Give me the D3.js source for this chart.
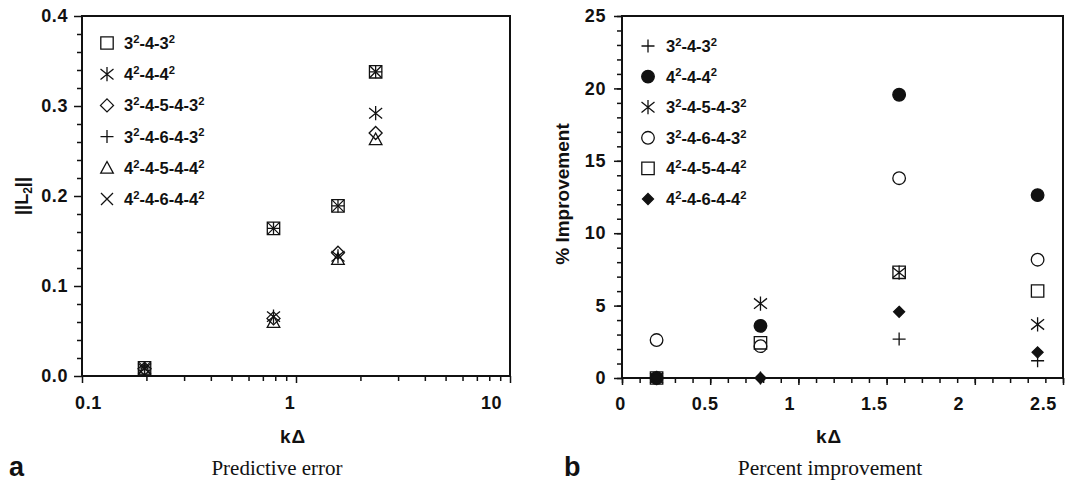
<!DOCTYPE html>
<html>
<head>
<meta charset="utf-8">
<script src="https://cdn.jsdelivr.net/npm/d3@7"></script>
<style>
  body { margin: 0; background: #fff; }
  text { fill: #111; }
  .bold { font-family: "Liberation Sans", Arial, sans-serif; font-weight: bold; }
  .tick-label { letter-spacing: 0.6px; }
  .serif { font-family: "Liberation Serif", "Times New Roman", serif; }
</style>
</head>
<body>
<svg id="chart" width="1083" height="486"></svg>
<script>
// Dimensionless grid spacing k*Delta for the four resolutions
const kDelta = [0.196, 0.785, 1.571, 2.356];

// Panel a: predictive error ||L2|| per stencil
const errorNames   = ["3²-4-3²", "4²-4-4²", "3²-4-5-4-3²", "3²-4-6-4-3²", "4²-4-5-4-4²", "4²-4-6-4-4²"];
const errorMarkers = ["square", "asterisk", "diamond", "plus", "triangle", "cross"];
const err_3_4_3       = [0.009, 0.164, 0.189, 0.338];
const err_4_4_4       = [0.008, 0.066, 0.133, 0.292];
const err_3_4_5_4_3   = [0.008, 0.064, 0.137, 0.270];
const err_3_4_6_4_3   = [0.009, 0.164, 0.189, 0.338];
const err_4_4_5_4_4   = [0.007, 0.060, 0.130, 0.263];
const err_4_4_6_4_4   = [0.009, 0.164, 0.189, 0.338];
const errorValues = [err_3_4_3, err_4_4_4, err_3_4_5_4_3, err_3_4_6_4_3, err_4_4_5_4_4, err_4_4_6_4_4];

// Panel b: percent improvement per stencil
const improvNames   = ["3²-4-3²", "4²-4-4²", "3²-4-5-4-3²", "3²-4-6-4-3²", "4²-4-5-4-4²", "4²-4-6-4-4²"];
const improvMarkers = ["plus", "dot", "asterisk", "circle", "square", "filledDiamond"];
const imp_3_4_3     = [0.0, 0.0, 2.69, 1.19];
const imp_4_4_4     = [0.0, 3.60, 19.56, 12.63];
const imp_3_4_5_4_3 = [0.0, 5.14, 7.28, 3.70];
const imp_3_4_6_4_3 = [2.62, 2.20, 13.80, 8.17];
const imp_4_4_5_4_4 = [0.0, 2.43, 7.30, 6.01];
const imp_4_4_6_4_4 = [0.0, 0.0, 4.57, 1.77];
const improvValues = [imp_3_4_3, imp_4_4_4, imp_3_4_5_4_3, imp_3_4_6_4_3, imp_4_4_5_4_4, imp_4_4_6_4_4];

// Axis tick values
const errYTicks   = [0.0, 0.1, 0.2, 0.3, 0.4];
const errXTicks   = [0.1, 1, 10];
const impYTicks   = [0, 5, 10, 15, 20, 25];
const impXTicks   = [0, 0.5, 1, 1.5, 2, 2.5];

const svg = d3.select("#chart");
const INK = "#111";

// Marker outlines, centred on the origin
function markerPath(type, r) {
  switch (type) {
    case "square":   return `M${-r},${-r}H${r}V${r}H${-r}Z`;
    case "cross":    return `M${-r},${-r}L${r},${r}M${-r},${r}L${r},${-r}`;
    case "plus":     return `M${-r},0H${r}M0,${-r}V${r}`;
    case "asterisk": return `M${-r},${-r*0.8}L${r},${r*0.8}M${-r},${r*0.8}L${r},${-r*0.8}M0,${-r*1.1}V${r*1.1}`;
    case "diamond":
    case "filledDiamond": return `M0,${-r}L${r},0L0,${r}L${-r},0Z`;
    case "triangle": return `M0,${-r}L${r},${r*0.85}L${-r},${r*0.85}Z`;
    case "circle":
    case "dot":      return `M${r},0A${r},${r} 0 1 1 ${-r},0A${r},${r} 0 1 1 ${r},0Z`;
  }
}
const markerSize = { square: 6.2, cross: 6, plus: 6.5, asterisk: 6.5, diamond: 6.5, filledDiamond: 5.5, triangle: 6.3, circle: 6.3, dot: 6.3 };
const filled = t => t === "dot" || t === "filledDiamond";

function drawMarker(g, type, x, y) {
  g.append("path")
    .attr("transform", `translate(${x},${y})`)
    .attr("d", markerPath(type, markerSize[type]))
    .attr("fill", filled(type) ? INK : "none")
    .attr("stroke", INK)
    .attr("stroke-width", 1.3);
}

// Text with superscript "2" rendered as raised tspans
function superText(sel, label, size) {
  const parts = label.split("²");
  parts.forEach((p, i) => {
    if (p) sel.append("tspan").attr("dy", i > 0 ? size * 0.38 : null).text(p);
    if (i < parts.length - 1) {
      sel.append("tspan").attr("font-size", size * 0.68).attr("dy", i > 0 && !p ? null : -size * 0.38).text("2");
      if (!parts[i + 1]) sel.append("tspan").attr("dy", size * 0.38).text("");
    }
  });
}

function frame(x0, x1, y0, y1) {
  svg.append("rect")
    .attr("x", x0).attr("y", y0)
    .attr("width", x1 - x0).attr("height", y1 - y0)
    .attr("fill", "none").attr("stroke", INK).attr("stroke-width", 2);
}

function styleAxis(g) {
  g.select(".domain").remove();
  g.selectAll("line").attr("stroke", INK).attr("stroke-width", 1.5);
}

const TICK_FONT = 18;

// ---------------- Panel a ----------------
const xA = d3.scaleLog().domain([0.1, 10]).range([82, 510]);
const yA = d3.scaleLinear().domain([0, 0.4]).range([376, 16]);
const xALabel = d3.scaleLog().domain([0.1, 10]).range([88, 491]);

// minor ticks
const aMinorX = [];
[0.1, 1].forEach(d => { for (let k = 2; k <= 9; k++) aMinorX.push(d * k); });
svg.append("g").attr("transform", `translate(0,376)`)
  .call(d3.axisBottom(xA).tickValues(aMinorX).tickSize(5).tickFormat(""))
  .call(styleAxis);
svg.append("g").attr("transform", `translate(0,376)`)
  .call(d3.axisBottom(xA).tickValues(errXTicks).tickSize(7).tickFormat(d3.format("~g")))
  .call(styleAxis)
  .call(g => g.selectAll("text")
    .attr("class", "bold tick-label").attr("font-size", TICK_FONT).attr("fill", INK)
    .attr("y", 20)
    .attr("dx", d => xALabel(d) - xA(d)));

const aMinorY = d3.range(0.02, 0.4, 0.02).filter(v => Math.abs(v * 10 - Math.round(v * 10)) > 1e-6);
svg.append("g").attr("transform", `translate(82,0)`)
  .call(d3.axisLeft(yA).tickValues(aMinorY).tickSize(5).tickFormat(""))
  .call(styleAxis);
svg.append("g").attr("transform", `translate(82,0)`)
  .call(d3.axisLeft(yA).tickValues(errYTicks).tickSize(8).tickFormat(d3.format(".1f")))
  .call(styleAxis)
  .call(g => g.selectAll("text")
    .attr("class", "bold tick-label").attr("font-size", TICK_FONT).attr("fill", INK).attr("x", -14));

frame(82, 510, 16, 376);

const gA = svg.append("g");
errorValues.forEach((vals, si) => {
  vals.forEach((v, i) => drawMarker(gA, errorMarkers[si], xA(kDelta[i]), yA(v)));
});

// legend a
errorNames.forEach((name, i) => {
  const y = 43 + i * 31.2;
  drawMarker(svg, errorMarkers[i], 107, y);
  const t = svg.append("text").attr("class", "bold").attr("font-size", 16.5)
    .attr("x", 124).attr("y", y + 6);
  superText(t, name, 16.5);
});

// titles a
const yTitleA = svg.append("text").attr("class", "bold").attr("font-size", 18)
  .attr("text-anchor", "middle")
  .attr("transform", "translate(28,196) rotate(-90)");
yTitleA.append("tspan").text("||L");
yTitleA.append("tspan").attr("font-size", 12).attr("dy", 4).text("2");
yTitleA.append("tspan").attr("dy", -4).text("||");

svg.append("text").attr("class", "bold").attr("font-size", 19).attr("letter-spacing", 1)
  .attr("text-anchor", "middle").attr("x", 293).attr("y", 443).text("kΔ");
svg.append("text").attr("class", "bold").attr("font-size", 27)
  .attr("x", 9).attr("y", 476).text("a");
svg.append("text").attr("class", "serif").attr("font-size", 21)
  .attr("text-anchor", "middle").attr("x", 277).attr("y", 475).text("Predictive error");

// ---------------- Panel b ----------------
const xB = d3.scaleLinear().domain([0, 2.5]).range([622, 1063]);
const yB = d3.scaleLinear().domain([0, 25]).range([378, 16]);
const xBLabel = d3.scaleLinear().domain([0, 2.5]).range([620, 1043]);

svg.append("g").attr("transform", `translate(0,378)`)
  .call(d3.axisBottom(xB).tickValues(d3.range(0, 2.51, 0.1)).tickSize(5).tickFormat(""))
  .call(styleAxis);
svg.append("g").attr("transform", `translate(0,378)`)
  .call(d3.axisBottom(xB).tickValues(impXTicks).tickSize(7).tickFormat(d3.format("~g")))
  .call(styleAxis)
  .call(g => g.selectAll("text")
    .attr("class", "bold tick-label").attr("font-size", TICK_FONT).attr("fill", INK)
    .attr("y", 19)
    .attr("dx", d => xBLabel(d) - xB(d)));

svg.append("g").attr("transform", `translate(622,0)`)
  .call(d3.axisLeft(yB).tickValues(d3.range(0, 25.1, 1)).tickSize(5).tickFormat(""))
  .call(styleAxis);
svg.append("g").attr("transform", `translate(622,0)`)
  .call(d3.axisLeft(yB).tickValues(impYTicks).tickSize(8).tickFormat(d3.format("d")))
  .call(styleAxis)
  .call(g => g.selectAll("text")
    .attr("class", "bold tick-label").attr("font-size", TICK_FONT).attr("fill", INK).attr("x", -16));

frame(622, 1063, 16, 378);

const gB = svg.append("g");
improvValues.forEach((vals, si) => {
  vals.forEach((v, i) => drawMarker(gB, improvMarkers[si], xB(kDelta[i]), yB(v)));
});

// legend b
improvNames.forEach((name, i) => {
  const y = 46 + i * 30.6;
  drawMarker(svg, improvMarkers[i], 648, y);
  const t = svg.append("text").attr("class", "bold").attr("font-size", 16.5)
    .attr("x", 666).attr("y", y + 6);
  superText(t, name, 16.5);
});

svg.append("text").attr("class", "bold").attr("font-size", 19)
  .attr("text-anchor", "middle")
  .attr("transform", "translate(569,194) rotate(-90)")
  .text("% Improvement");
svg.append("text").attr("class", "bold").attr("font-size", 19).attr("letter-spacing", 1)
  .attr("text-anchor", "middle").attr("x", 829).attr("y", 443).text("kΔ");
svg.append("text").attr("class", "bold").attr("font-size", 27)
  .attr("x", 564).attr("y", 476).text("b");
svg.append("text").attr("class", "serif").attr("font-size", 21.5)
  .attr("text-anchor", "middle").attr("x", 830).attr("y", 475).text("Percent improvement");
</script>
</body>
</html>
